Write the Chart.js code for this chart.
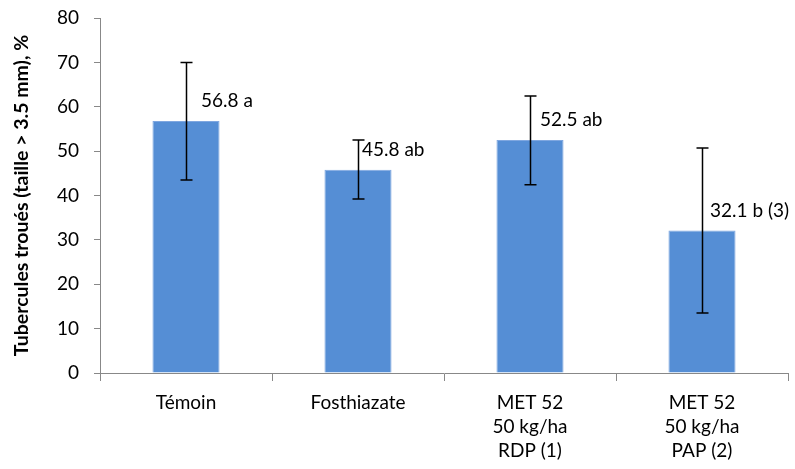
<!DOCTYPE html>
<html>
<head>
<meta charset="utf-8">
<script src="https://cdn.jsdelivr.net/npm/chart.js@4.4.1/dist/chart.umd.min.js"></script>
<style>
  html, body { margin: 0; padding: 0; background: #fff; }
  #wrap { width: 795px; height: 469px; }
</style>
</head>
<body>
<div id="wrap"><canvas id="chart" width="795" height="469"></canvas></div>
<script>
// Data
const categories = [
    ['Témoin'],
    ['Fosthiazate'],
    ['MET 52', '50 kg/ha', 'RDP (1)'],
    ['MET 52', '50 kg/ha', 'PAP (2)']
];
const values = [56.8, 45.8, 52.5, 32.1];
const errLow = [43.5, 39.2, 42.4, 13.5];
const errHigh = [70.0, 52.5, 62.4, 50.7];
const valueLabels = ['56.8 a', '45.8 ab', '52.5 ab', '32.1 b (3)'];
const yTicks = [0, 10, 20, 30, 40, 50, 60, 70, 80];

// label placement (pixels right of bar centre)
const labelDx = [15, 4, 10, 8];

const FONT = "Lato, 'Open Sans', sans-serif";

// Draws error bars and the value labels
const errorBarPlugin = {
    id: 'errorBars',
    afterDatasetsDraw(chart) {
        const ctx = chart.ctx;
        const y = chart.scales.y;
        const meta = chart.getDatasetMeta(0);
        ctx.save();
        ctx.strokeStyle = '#000';
        ctx.lineWidth = 1.5;
        meta.data.forEach((bar, i) => {
            const x = Math.round(bar.x) + 0.5;
            const top = y.getPixelForValue(errHigh[i]);
            const bot = y.getPixelForValue(errLow[i]);
            ctx.beginPath();
            ctx.moveTo(x, top);
            ctx.lineTo(x, bot);
            ctx.moveTo(x - 6, top);
            ctx.lineTo(x + 6, top);
            ctx.moveTo(x - 6, bot);
            ctx.lineTo(x + 6, bot);
            ctx.stroke();
        });
        ctx.fillStyle = '#000';
        ctx.font = '19px ' + FONT;
        ctx.textBaseline = 'middle';
        ctx.textAlign = 'left';
        meta.data.forEach((bar, i) => {
            ctx.fillText(valueLabels[i], bar.x + labelDx[i], y.getPixelForValue(values[i] + 4.5));
        });
        ctx.restore();
    }
};

new Chart(document.getElementById('chart'), {
    type: 'bar',
    data: {
        labels: categories,
        datasets: [{
            data: values,
            backgroundColor: '#558ED5',
            borderColor: '#7FA7E0',
            borderWidth: 1,
            categoryPercentage: 1,
            barPercentage: 0.39
        }]
    },
    options: {
        responsive: false,
        animation: false,
        layout: { padding: { top: 18, right: 7, left: 0, bottom: 0 } },
        plugins: {
            legend: { display: false },
            tooltip: { enabled: false }
        },
        scales: {
            x: {
                grid: {
                    offset: true,
                    drawOnChartArea: false,
                    color: '#888',
                    tickLength: 8
                },
                border: { color: '#888', width: 1 },
                ticks: {
                    color: '#000',
                    font: { family: FONT, size: 19, lineHeight: 1.26 },
                    padding: 10,
                    maxRotation: 0
                },
                afterFit(scale) {
                    scale.height = 96;
                    scale.paddingLeft = 0;
                    scale.paddingRight = 0;
                }
            },
            y: {
                min: 0,
                max: 80,
                afterBuildTicks(scale) {
                    scale.ticks = yTicks.map(v => ({ value: v }));
                },
                grid: {
                    drawOnChartArea: false,
                    color: '#888',
                    tickLength: 6
                },
                border: { color: '#888', width: 1 },
                ticks: {
                    color: '#000',
                    font: { family: FONT, size: 19 },
                    padding: 15
                },
                title: {
                    display: true,
                    text: 'Tubercules troués (taille > 3.5 mm), %',
                    color: '#000',
                    font: { family: FONT, size: 19.5, weight: 'bold' },
                    padding: { top: 10, bottom: 0 }
                },
                afterFit(scale) {
                    scale.width = 100;
                    scale.paddingTop = 0;
                    scale.paddingBottom = 0;
                }
            }
        }
    },
    plugins: [errorBarPlugin]
});
</script>
</body>
</html>
